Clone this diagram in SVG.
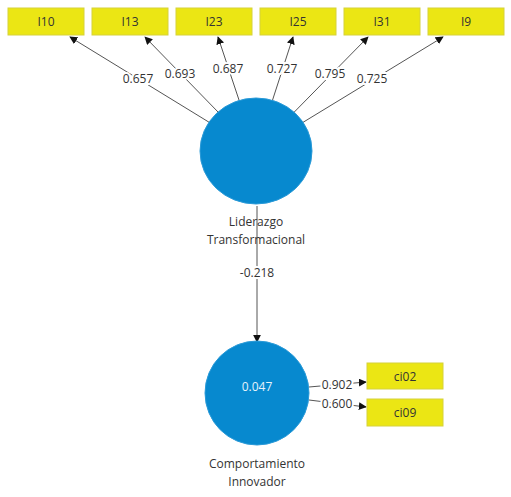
<svg xmlns="http://www.w3.org/2000/svg" width="511" height="497" viewBox="0 0 511 497">
<style>
.box{fill:#ebe614;stroke:#d6d23a;stroke-width:1}
.lv{fill:#0789cf;stroke:#2a9ad8;stroke-width:1}
.t{font-family:"Open Sans","Noto Sans",sans-serif;font-size:12px;fill:#333;text-anchor:middle}
.lbl{font-family:"Open Sans","Noto Sans",sans-serif;font-size:12px;fill:#333;text-anchor:middle;stroke:#fff;stroke-width:4;paint-order:stroke}
.c{stroke:#555;stroke-width:1;fill:none;marker-end:url(#ah)}
</style>
<defs>
<marker id="ah" viewBox="0 0 10 10" refX="9" refY="5" markerWidth="8" markerHeight="8" markerUnits="userSpaceOnUse" orient="auto">
<path d="M0,0 L10,5 L0,10 z" fill="#111"/>
</marker>
</defs>
<rect width="511" height="497" fill="#fff"/>
<g id="connectors">
<line class="c" x1="256" y1="151" x2="70" y2="37"/>
<line class="c" x1="256" y1="151" x2="145" y2="37"/>
<line class="c" x1="256" y1="151" x2="218" y2="37"/>
<line class="c" x1="256" y1="151" x2="293" y2="37"/>
<line class="c" x1="256" y1="151" x2="368" y2="37"/>
<line class="c" x1="256" y1="151" x2="443" y2="37"/>
<line class="c" x1="257" y1="206" x2="257" y2="342"/>
<line class="c" x1="309" y1="387" x2="366" y2="382"/>
<line class="c" x1="309" y1="400" x2="366" y2="407"/>
<text class="lbl" x="138" y="83">0.657</text>
<text class="lbl" x="180" y="78">0.693</text>
<text class="lbl" x="228" y="73">0.687</text>
<text class="lbl" x="282" y="73">0.727</text>
<text class="lbl" x="330" y="78">0.795</text>
<text class="lbl" x="372" y="83">0.725</text>
<text class="lbl" x="257" y="277">-0.218</text>
<text class="lbl" x="337" y="389">0.902</text>
<text class="lbl" x="337" y="408">0.600</text>
</g>
<g id="I10"><rect class="box" x="8" y="8" width="76" height="27"/><text class="t" x="46" y="26">I10</text></g>
<g id="I13"><rect class="box" x="92" y="8" width="76" height="27"/><text class="t" x="130" y="26">I13</text></g>
<g id="I23"><rect class="box" x="176" y="8" width="76" height="27"/><text class="t" x="214" y="26">I23</text></g>
<g id="I25"><rect class="box" x="260" y="8" width="76" height="27"/><text class="t" x="298" y="26">I25</text></g>
<g id="I31"><rect class="box" x="344" y="8" width="76" height="27"/><text class="t" x="382" y="26">I31</text></g>
<g id="I9"><rect class="box" x="428" y="8" width="76" height="27"/><text class="t" x="466" y="26">I9</text></g>
<g id="liderazgo">
<ellipse class="lv" cx="256" cy="151" rx="56" ry="53"/>
<text class="t" x="256" y="226">Liderazgo</text>
<text class="t" x="256" y="244">Transformacional</text>
</g>
<g id="comportamiento">
<circle class="lv" cx="257" cy="393" r="52"/>
<text class="t" x="257" y="391" style="fill:#e6f3fb">0.047</text>
<text class="t" x="257" y="468">Comportamiento</text>
<text class="t" x="257" y="486">Innovador</text>
</g>
<g id="ci02"><rect class="box" x="367" y="363" width="76" height="26"/><text class="t" x="405" y="381">ci02</text></g>
<g id="ci09"><rect class="box" x="367" y="399" width="76" height="27"/><text class="t" x="405" y="417">ci09</text></g>
</svg>
